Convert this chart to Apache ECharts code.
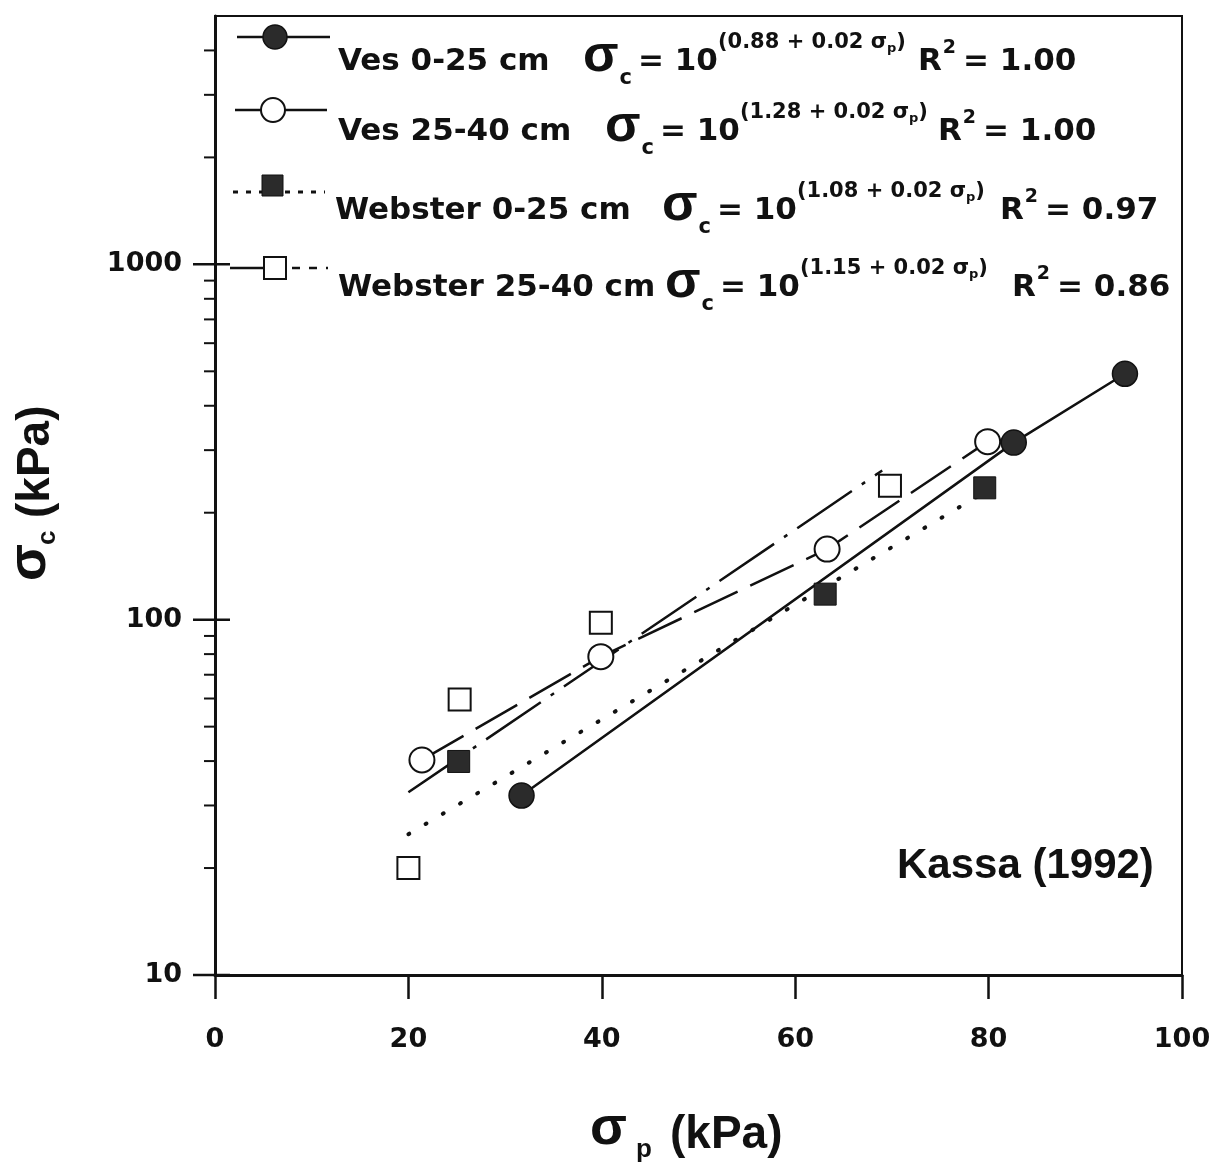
<!DOCTYPE html>
<html>
<head>
<meta charset="utf-8">
<script src="https://cdn.jsdelivr.net/npm/echarts@6/dist/echarts.min.js"></script>
<style>
  html, body { margin: 0; padding: 0; background: #fff; }
  #chart { width: 1218px; height: 1171px; }
</style>
</head>
<body>
<div id="chart"></div>
<script>
// Measured points: sigma_p (kPa) and sigma_c (kPa)
const vesTopX = [31.7, 82.6, 94.1];
const vesTopY = [32.0, 315, 492];
const vesSubX = [21.4, 39.9, 63.3, 79.9];
const vesSubY = [40.3, 78.7, 158, 317];
const webTopX = [25.2, 63.1, 79.6];
const webTopY = [39.9, 118, 235];
const webSubX = [20.0, 25.3, 39.9, 69.8];
const webSubY = [20.0, 59.6, 98.1, 238];

// Regression lines for the Webster soil (start and end)
const webTopFitX = [20, 80];
const webTopFitY = [24.9, 232];
const webSubFitX = [20, 69];
const webSubFitY = [32.7, 263];

// Legend texts
const seriesNames = ['Ves 0-25 cm', 'Ves 25-40 cm', 'Webster 0-25 cm', 'Webster 25-40 cm'];
const intercepts = ['0.88', '1.28', '1.08', '1.15'];
const slopes = ['0.02', '0.02', '0.02', '0.02'];
const r2Values = ['1.00', '1.00', '0.97', '0.86'];
const sourceNote = 'Kassa (1992)';

// Axis ticks
const xTickValues = [0, 20, 40, 60, 80, 100];
const yMajorTicks = [10, 100, 1000];
const yMinorTicks = [20, 30, 40, 50, 60, 70, 80, 90, 200, 300, 400, 500, 600, 700, 800, 900, 2000, 3000, 4000];

const zip = (xs, ys) => xs.map((x, i) => [x, ys[i]]);

const INK = '#111';
const MAIN = 'DejaVu Sans';
const SANS = 'Liberation Sans';

const meas = document.createElement('canvas').getContext('2d');
function tw(text, size, family, weight) {
  meas.font = (weight || 'bold') + ' ' + size + 'px "' + (family || MAIN) + '"';
  return meas.measureText(text).width;
}
function txt(x, y, s, size, family, weight) {
  return {
    type: 'text', x: x, y: y, silent: true,
    style: {
      text: s, font: (weight || 'bold') + ' ' + size + 'px "' + (family || MAIN) + '"',
      fill: INK, align: 'left', verticalAlign: 'middle',
      textAlign: 'left', textVerticalAlign: 'middle'
    }
  };
}

// Legend rows: text centre line, position of the equation and of R^2
const rows = [
  { nameX: 338, y: 62, sigX: 583, rX: 918, iconY: 37 },
  { nameX: 338, y: 132, sigX: 605, rX: 938, iconY: 110 },
  { nameX: 335, y: 211, sigX: 662, rX: 1000, iconY: 185 },
  { nameX: 338, y: 288, sigX: 665, rX: 1012, iconY: 268 }
];

const legendEls = [];
rows.forEach((r, i) => {
  legendEls.push(txt(r.nameX, r.y, seriesNames[i], 31));
  let x = r.sigX;
  legendEls.push(txt(x, r.y - 5, 'σ', 52, SANS));
  x += tw('σ', 52, SANS) + 1;
  legendEls.push(txt(x, r.y + 17, 'c', 21));
  x += tw('c', 21) + 6;
  legendEls.push(txt(x, r.y, '= 10', 31));
  x += tw('= 10', 31);
  const supY = r.y - 19;
  const supA = '(' + intercepts[i] + ' + ' + slopes[i] + ' σ';
  legendEls.push(txt(x, supY, supA, 21));
  x += tw(supA, 21);
  legendEls.push(txt(x, supY + 6, 'p', 13));
  x += tw('p', 13);
  legendEls.push(txt(x, supY, ')', 21));
  let rx = r.rX;
  legendEls.push(txt(rx, r.y, 'R', 31));
  rx += tw('R', 31);
  legendEls.push(txt(rx + 1, r.y - 14, '2', 19));
  rx += tw('2', 19) + 8;
  legendEls.push(txt(rx, r.y, '= ' + r2Values[i], 31));
});

// Legend keys
const line = (x1, x2, y, dash, w) => ({
  type: 'line', silent: true,
  shape: { x1: x1, y1: y, x2: x2, y2: y },
  style: { stroke: INK, lineWidth: w || 2.5, lineDash: dash || null }
});
legendEls.push(
  line(237, 330, rows[0].iconY),
  { type: 'circle', silent: true, shape: { cx: 275, cy: rows[0].iconY, r: 12 }, style: { fill: '#2b2b2b', stroke: INK, lineWidth: 1.5 } },
  line(235, 327, rows[1].iconY),
  { type: 'circle', silent: true, shape: { cx: 273, cy: rows[1].iconY, r: 12 }, style: { fill: '#fff', stroke: INK, lineWidth: 2 } },
  line(233, 325, rows[2].iconY + 7, [5, 8], 3),
  { type: 'rect', silent: true, shape: { x: 262, y: rows[2].iconY - 10, width: 21, height: 21 }, style: { fill: '#2b2b2b', stroke: INK, lineWidth: 1 } },
  line(230, 263, rows[3].iconY),
  line(292, 328, rows[3].iconY, [8, 9]),
  { type: 'rect', silent: true, shape: { x: 264, y: rows[3].iconY - 11, width: 22, height: 22 }, style: { fill: '#fff', stroke: INK, lineWidth: 2 } }
);

// Axis titles
const yTitle = {
  type: 'group', x: 36, y: 488, rotation: Math.PI / 2, silent: true,
  children: [
    txt(-93, -6, 'σ', 54, SANS),
    txt(-57, 12, 'c', 26, SANS),
    txt(-30, 0, '(kPa)', 46, SANS)
  ]
};
const xTitle = {
  type: 'group', x: 0, y: 0, silent: true,
  children: [
    txt(590, 1129, 'σ', 54, SANS),
    txt(636, 1150, 'p', 26, SANS),
    txt(670, 1135, '(kPa)', 46, SANS)
  ]
};

const chart = echarts.init(document.getElementById('chart'), null, { renderer: 'canvas' });

chart.setOption({
  backgroundColor: '#fff',
  animation: false,
  grid: {
    left: 215, right: 36, top: 16, bottom: 196,
    show: true, borderColor: INK, borderWidth: 2, backgroundColor: 'transparent'
  },
  xAxis: {
    type: 'value', min: 0, max: 100, interval: 20,
    axisLine: { show: true, onZero: false, lineStyle: { color: INK, width: 3 } },
    axisTick: { show: true, inside: false, length: 24, lineStyle: { color: INK, width: 2.5 } },
    axisLabel: {
      margin: 51, color: INK, fontSize: 27, fontWeight: 'bold', fontFamily: MAIN,
      formatter: v => (xTickValues.indexOf(Math.round(v)) >= 0 ? String(Math.round(v)) : '')
    },
    splitLine: { show: false }
  },
  yAxis: {
    type: 'log', logBase: 10, min: 10, max: 5000,
    axisLine: { show: true, onZero: false, lineStyle: { color: INK, width: 3 } },
    axisTick: { show: false },
    minorTick: { show: false },
    axisLabel: {
      margin: 33, color: INK, fontSize: 27, fontWeight: 'bold', fontFamily: MAIN,
      formatter: v => {
        const r = Math.round(v);
        return yMajorTicks.indexOf(r) >= 0 ? String(r) : '';
      }
    },
    splitLine: { show: false }
  },
  graphic: { elements: legendEls.concat([yTitle, xTitle, txt(897, 866, sourceNote, 42, SANS)]) },
  series: [
    {
      // tick marks on the log axis: majors cross the axis, minors point outward
      type: 'custom', coordinateSystem: 'cartesian2d', clip: false, silent: true, z: 6,
      data: yMajorTicks.map(v => [0, v, 1]).concat(yMinorTicks.map(v => [0, v, 0])),
      renderItem: (params, api) => {
        const p = api.coord([0, api.value(1)]);
        const major = api.value(2) === 1;
        return {
          type: 'line',
          shape: { x1: p[0] - (major ? 22 : 11), y1: p[1], x2: p[0] + (major ? 15 : 0), y2: p[1] },
          style: { stroke: INK, lineWidth: major ? 2.5 : 2 }
        };
      }
    },
    {
      name: seriesNames[2] + ' fit', type: 'line', z: 1, symbol: 'none', silent: true,
      data: zip(webTopFitX, webTopFitY),
      lineStyle: { color: INK, width: 4, type: [1, 19], cap: 'round' }
    },
    {
      name: seriesNames[3] + ' fit', type: 'line', z: 1, symbol: 'none', silent: true,
      data: zip(webSubFitX, webSubFitY),
      lineStyle: { color: INK, width: 2.5, type: [66, 12, 4, 12] }
    },
    {
      name: seriesNames[0], type: 'line', z: 2, symbol: 'circle', symbolSize: 25,
      data: zip(vesTopX, vesTopY),
      itemStyle: { color: '#2b2b2b', borderColor: INK, borderWidth: 1.5 },
      lineStyle: { color: INK, width: 2.5, type: 'solid' }
    },
    {
      name: seriesNames[1], type: 'line', z: 2, symbol: 'circle', symbolSize: 25,
      data: zip(vesSubX, vesSubY),
      itemStyle: { color: '#fff', borderColor: INK, borderWidth: 2 },
      lineStyle: { color: INK, width: 2.5, type: [48, 14] }
    },
    {
      name: seriesNames[2], type: 'scatter', z: 3, symbol: 'rect', symbolSize: 22,
      data: zip(webTopX, webTopY),
      itemStyle: { color: '#2b2b2b', borderColor: INK, borderWidth: 1, opacity: 1 }
    },
    {
      name: seriesNames[3], type: 'scatter', z: 3, symbol: 'rect', symbolSize: 22,
      data: zip(webSubX, webSubY),
      itemStyle: { color: '#fff', borderColor: INK, borderWidth: 2, opacity: 1 }
    }
  ]
});
</script>
</body>
</html>
